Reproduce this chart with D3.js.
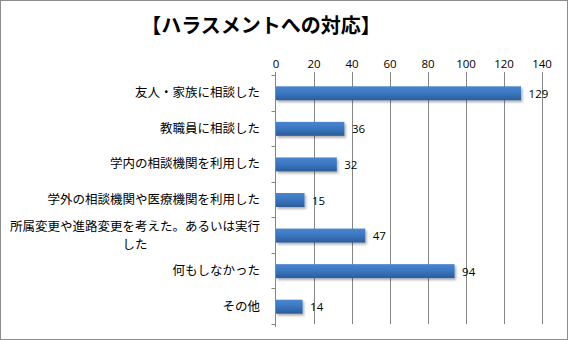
<!DOCTYPE html>
<html><head><meta charset="utf-8">
<script src="https://cdn.jsdelivr.net/npm/d3@7"></script>
<style>
html,body{margin:0;padding:0;background:#fff;}
svg{display:block;}
</style></head>
<body>
<script>
const title = "【ハラスメントへの対応】";
const categories = [
  "友人・家族に相談した",
  "教職員に相談した",
  "学内の相談機関を利用した",
  "学外の相談機関や医療機関を利用した",
  "所属変更や進路変更を考えた。あるいは実行|した",
  "何もしなかった",
  "その他"
];
const values = [129, 36, 32, 15, 47, 94, 14];
const tickValues = [0, 20, 40, 60, 80, 100, 120, 140];

const W = 568, H = 340;
const margin = {left: 275.5, right: 26, top: 75, bottom: 16};
const svg = d3.select("body").append("svg").attr("width", W).attr("height", H);

const defs = svg.append("defs");
const grad = defs.append("linearGradient").attr("id","bargrad").attr("x1",0).attr("y1",0).attr("x2",0).attr("y2",1);
grad.append("stop").attr("offset","0%").attr("stop-color","#4a86cf");
grad.append("stop").attr("offset","45%").attr("stop-color","#3b78c2");
grad.append("stop").attr("offset","100%").attr("stop-color","#2c5c99");
const filt = defs.append("filter").attr("id","shadow").attr("x","-10%").attr("y","-30%").attr("width","130%").attr("height","190%");
filt.append("feDropShadow").attr("dx",1.5).attr("dy",2).attr("stdDeviation",1.2).attr("flood-color","#000").attr("flood-opacity",0.3);

// outer border
svg.append("rect").attr("x",0.5).attr("y",0.5).attr("width",W-1).attr("height",H-1)
  .attr("fill","#fff").attr("stroke","#8c8c8c").attr("stroke-width",1);

svg.append("text").attr("x",261).attr("y",33).attr("text-anchor","middle")
  .attr("font-family","'Noto Sans CJK JP'").attr("font-weight","bold").attr("font-size",20)
  .attr("fill","#000").text(title);

const x = d3.scaleLinear().domain([0,140]).range([margin.left, 541.5]);
const y = d3.scaleBand().domain(categories).range([margin.top, H - margin.bottom]).paddingInner(0).paddingOuter(0);

// gridlines
svg.append("g").selectAll("line").data(tickValues.slice(1)).join("line")
  .attr("x1",d=>Math.round(x(d))+0.5).attr("x2",d=>Math.round(x(d))+0.5)
  .attr("y1",margin.top-3).attr("y2",H-margin.bottom)
  .attr("stroke","#868686").attr("stroke-width",1);

// top axis labels
const xAxis = d3.axisTop(x).tickValues(tickValues).tickSize(0).tickPadding(0);
const gx = svg.append("g").attr("transform",`translate(0,${margin.top-7})`).call(xAxis);
gx.select(".domain").remove();
gx.selectAll("text").attr("font-family","'Open Sans'").attr("font-size",11.5).attr("fill","#000");

// left axis
const yBounds = categories.map(c=>y(c)).concat([H - margin.bottom]);
svg.append("line").attr("x1",margin.left).attr("x2",margin.left)
  .attr("y1",margin.top-3).attr("y2",H-margin.bottom+3).attr("stroke","#868686");
svg.append("g").selectAll("line").data(yBounds).join("line")
  .attr("x1",margin.left-4).attr("x2",margin.left)
  .attr("y1",d=>Math.round(d)+0.5).attr("y2",d=>Math.round(d)+0.5)
  .attr("stroke","#868686");

// bars
const barH = 14;
svg.append("g").selectAll("rect").data(values).join("rect")
  .attr("x", x(0)+0.5)
  .attr("y",(d,i)=>y(categories[i]) + y.bandwidth()/2 - barH/2 + 0.5)
  .attr("width",d=>x(d)-x(0))
  .attr("height",barH)
  .attr("fill","url(#bargrad)")
  .attr("filter","url(#shadow)");

// value labels
svg.append("g").selectAll("text").data(values).join("text")
  .attr("x",d=>x(d)+8)
  .attr("y",(d,i)=>y(categories[i]) + y.bandwidth()/2 + 5)
  .attr("font-family","'Open Sans'").attr("font-size",11.5).attr("fill","#000")
  .text(d=>d);

// category labels
const labG = svg.append("g");
categories.forEach(c=>{
  const lines = c.split("|");
  const cy = y(c) + y.bandwidth()/2;
  const n = lines.length;
  if(n===1){
    labG.append("text").attr("x",260).attr("y",cy+4.5).attr("text-anchor","end")
      .attr("font-family","'Noto Sans CJK JP'").attr("font-size",12.5).attr("fill","#000").text(lines[0]);
  } else {
    const t = labG.append("text").attr("font-family","'Noto Sans CJK JP'").attr("font-size",12.5).attr("fill","#000");
    const w0 = 12.5*lines[0].length;
    const cx = 260 - w0/2;
    lines.forEach((l,k)=>{
      t.append("tspan").attr("x",cx).attr("text-anchor","middle")
        .attr("y",cy + 4.5 + (k-(n-1)/2)*18).text(l);
    });
  }
});
</script>
</body></html>
